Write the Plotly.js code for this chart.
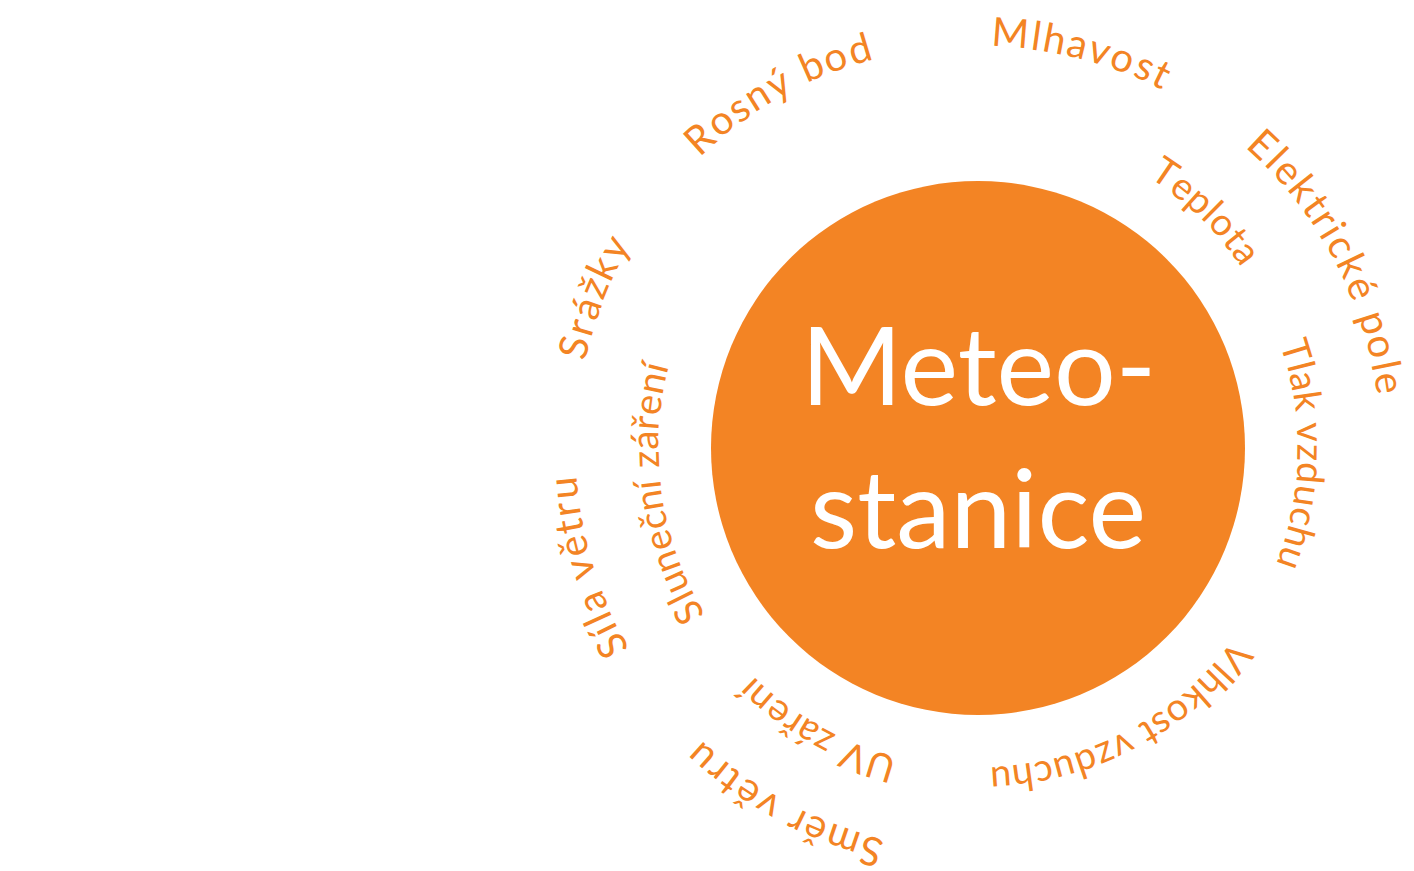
<!DOCTYPE html>
<html>
<head>
<meta charset="utf-8">
<script src="https://cdn.plot.ly/plotly-3.0.1.min.js"></script>
<style>html,body{margin:0;padding:0;background:#fff;overflow:hidden}#chart{width:1414px;height:871px}</style>
</head>
<body>
<div id="chart"></div>
<script>
// ---- data ----
const labels = ["Mlhavost", "Elektrické pole", "Teplota", "Tlak vzduchu", "Vlhkost vzduchu", "UV záření", "Směr větru", "Sluneční záření", "Síla větru", "Srážky", "Rosný bod"];
const labelRings = ["outer", "outer", "inner", "inner", "inner", "inner", "outer", "inner", "outer", "outer", "outer"];
const labelAngles = [14.5, 62, 43.9, 91.1, 152.4, 209.6, 208.4, 261.8, 253, -68.6, -29.4];
const centerLines = ["Meteo-", "stanice"];

// ---- style ----
const W = 1414, H = 871;
const cx = 978, cy = 448, R = 267;
const orange = '#F38424';
const fontFam = 'Lato';
const ringStyle = {
  outer: {base: 402, size: 40, spacing: 2},
  inner: {base: 320, size: 38, spacing: 0.6}
};
const centerSize = 109;

const ctx = document.createElement('canvas').getContext('2d');

const annotations = [];
labels.forEach((txt, li) => {
  const st = ringStyle[labelRings[li]];
  const fs = st.size, rb = st.base, sp = st.spacing;
  ctx.font = fs + 'px ' + fontFam;
  const rc = rb + 0.387 * fs;
  const chars = Array.from(txt);
  const widths = chars.map(c => ctx.measureText(c).width);
  const total = widths.reduce((a, b) => a + b, 0) + sp * (chars.length - 1);
  const totalDeg = total / rb * 180 / Math.PI;
  const start = labelAngles[li] - totalDeg / 2;
  let acc = 0;
  chars.forEach((c, i) => {
    const off = acc + widths[i] / 2;
    acc += widths[i] + sp;
    if (c === ' ') return;
    const th = start + off / rb * 180 / Math.PI;
    const t = th * Math.PI / 180;
    annotations.push({
      x: cx + rc * Math.sin(t), y: cy - rc * Math.cos(t),
      xref: 'x', yref: 'y', text: c, showarrow: false,
      textangle: th, xanchor: 'center', yanchor: 'middle',
      font: {family: fontFam, size: fs, color: orange}
    });
  });
});

const centerBaselines = [405, 548];
centerLines.forEach((t, i) => {
  annotations.push({
    x: 978, y: centerBaselines[i] - 0.387 * centerSize, xref: 'x', yref: 'y', text: t, showarrow: false,
    xanchor: 'center', yanchor: 'middle',
    font: {family: fontFam, size: centerSize, color: '#ffffff'}
  });
});

const layout = {
  width: W, height: H,
  margin: {l: 0, r: 0, t: 0, b: 0},
  paper_bgcolor: '#fff', plot_bgcolor: '#fff',
  showlegend: false,
  xaxis: {range: [0, W], visible: false, fixedrange: true},
  yaxis: {range: [H, 0], visible: false, fixedrange: true},
  shapes: [{
    type: 'circle', xref: 'x', yref: 'y',
    x0: cx - R, x1: cx + R, y0: cy - R, y1: cy + R,
    fillcolor: orange, line: {width: 0}, layer: 'below'
  }],
  annotations: annotations
};

Plotly.newPlot('chart', [{x: [], y: [], type: 'scatter', hoverinfo: 'skip'}], layout, {displayModeBar: false, staticPlot: true});
</script>
</body>
</html>
